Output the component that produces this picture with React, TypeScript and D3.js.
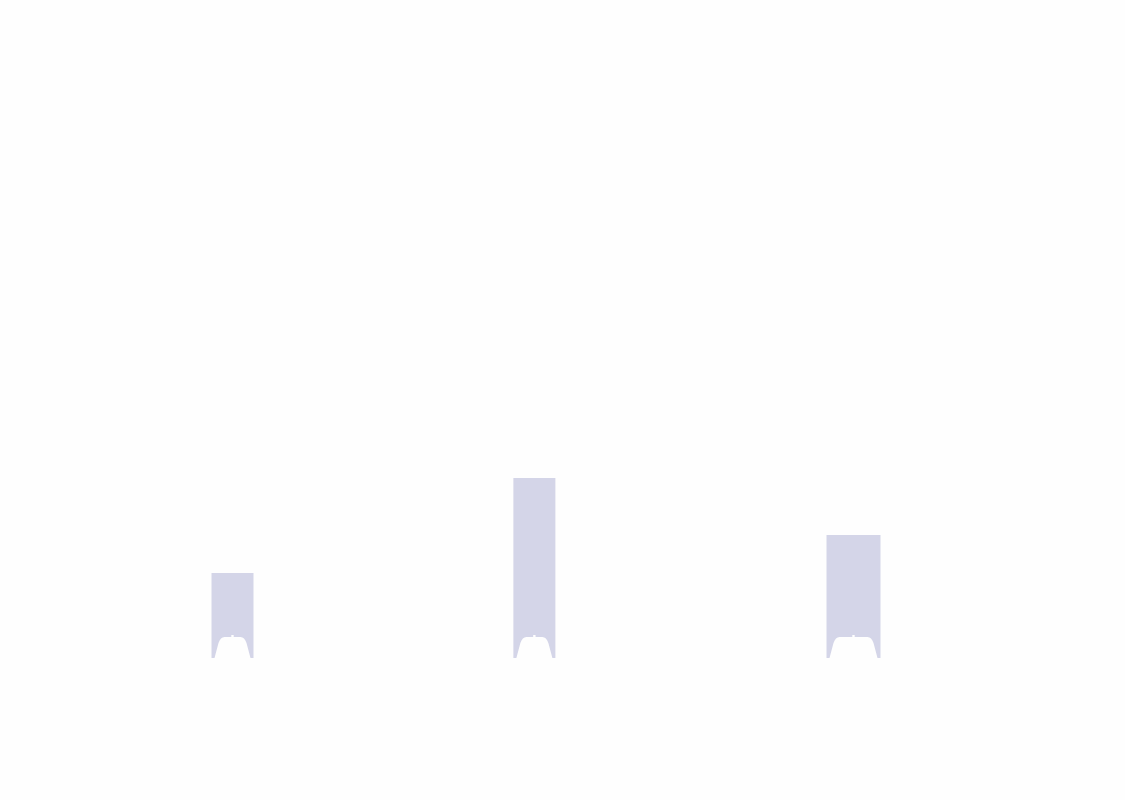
import { path, scaleLinear } from 'd3'

// three pictorial columns, each standing on two short legs
const categories = ['A', 'B', 'C']
const positions = [2, 5.5, 9.2]
const values = [42.5, 90, 61.5]

const width = 1125
const height = 800
const baseline = 658
const barWidths = [42, 42, 54]
const fill = '#d4d5e8'

type Column = {
  readonly name: string
  readonly position: number
  readonly value: number
  readonly barWidth: number
}

const columns: Column[] = categories.map((name, index) => ({
  name,
  position: positions[index],
  value: values[index],
  barWidth: barWidths[index],
}))

// outline of a column with an arched cut-out at its foot
function columnPath(left: number, top: number, w: number, bottom: number): string {
  const p = path()
  const mid = left + w / 2
  p.moveTo(left, top)
  p.lineTo(left + w, top)
  p.lineTo(left + w, bottom)
  p.lineTo(left + w - 3, bottom)
  p.lineTo(left + w - 7, bottom - 15)
  p.quadraticCurveTo(left + w - 9, bottom - 21, left + w - 13, bottom - 21)
  p.lineTo(mid + 1.2, bottom - 21)
  p.lineTo(mid + 1.2, bottom - 23)
  p.lineTo(mid - 1.2, bottom - 23)
  p.lineTo(mid - 1.2, bottom - 21)
  p.lineTo(left + 13, bottom - 21)
  p.quadraticCurveTo(left + 9, bottom - 21, left + 7, bottom - 15)
  p.lineTo(left + 3, bottom)
  p.lineTo(left, bottom)
  p.closePath()
  return p.toString()
}

export default function App() {
  const xScale = scaleLinear().domain([0, 12]).range([60, 1095])
  const yScale = scaleLinear().domain([0, 100]).range([baseline, baseline - 200])

  return (
    <svg
      width={width}
      height={height}
      viewBox={`0 0 ${width} ${height}`}
      style={{ position: 'absolute', left: 0, top: 0, background: '#fefefe' }}
    >
      {columns.map((column) => {
        const cx = xScale(column.position)
        return (
          <path
            key={column.name}
            d={columnPath(cx - column.barWidth / 2, yScale(column.value), column.barWidth, yScale(0))}
            fill={fill}
          />
        )
      })}
    </svg>
  )
}
